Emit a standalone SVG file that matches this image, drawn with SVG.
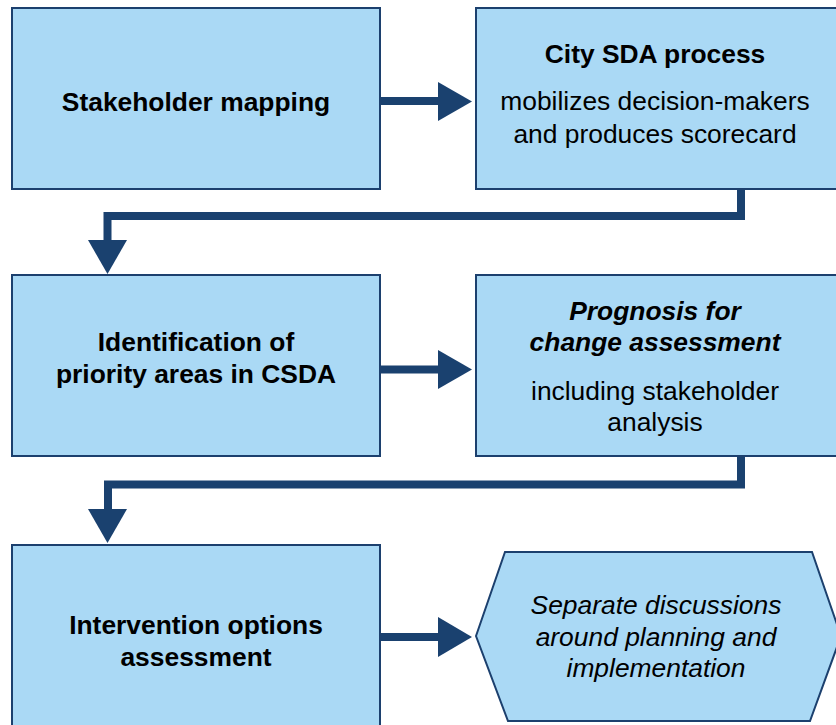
<svg xmlns="http://www.w3.org/2000/svg" width="836" height="725" viewBox="0 0 836 725">
<defs>
<style>
.box{fill:#aad9f5;stroke:#1c406e;stroke-width:2}
.conn{fill:none;stroke:#1a416f;stroke-width:8}
.head{fill:#1a416f}
text{font-family:"Liberation Sans",Arial,Helvetica,sans-serif;fill:#000;text-anchor:middle;font-size:26.4px}
.b{font-weight:bold}
.i{font-style:italic}
</style>
</defs>
<rect width="836" height="725" fill="#fff"/>
<g id="connectors">
<line class="conn" x1="380" y1="101" x2="440" y2="101"/>
<polygon class="head" points="438,82 472,101.5 438,121"/>
<polyline class="conn" points="741,189 741,216 107.5,216 107.5,242"/>
<polygon class="head" points="88,240 127,240 107.5,274"/>
<line class="conn" x1="380" y1="369.5" x2="440" y2="369.5"/>
<polygon class="head" points="438,350 472,369.5 438,389"/>
<polyline class="conn" points="741,457 741,484.5 108,484.5 108,511"/>
<polygon class="head" points="88,509 127,509 107.5,543"/>
<line class="conn" x1="380" y1="637" x2="440" y2="637"/>
<polygon class="head" points="438,617 472,637 438,657"/>
</g>
<g id="n1">
<rect class="box" x="12" y="8" width="368" height="181"/>
<text class="b" x="196" y="111">Stakeholder mapping</text>
</g>
<g id="n2">
<rect class="box" x="476" y="8" width="370" height="181"/>
<text class="b" x="655" y="63">City SDA process</text>
<text x="655" y="110">mobilizes decision-makers</text>
<text x="655" y="143">and produces scorecard</text>
</g>
<g id="n3">
<rect class="box" x="12" y="275" width="368" height="181"/>
<text class="b" x="196" y="351">Identification of</text>
<text class="b" x="196" y="383">priority areas in CSDA</text>
</g>
<g id="n4">
<rect class="box" x="476" y="275" width="370" height="181"/>
<text class="b i" x="655" y="320">Prognosis for</text>
<text class="b i" x="655" y="351">change assessment</text>
<text x="655" y="400">including stakeholder</text>
<text x="655" y="431">analysis</text>
</g>
<g id="n5">
<rect class="box" x="12" y="545" width="368" height="190"/>
<text class="b" x="196" y="634">Intervention options</text>
<text class="b" x="196" y="666">assessment</text>
</g>
<g id="n6">
<polygon class="box" points="476,636 505,552 812,552 841,636 810,721 508,721"/>
<text class="i" x="656" y="614">Separate discussions</text>
<text class="i" x="656" y="646">around planning and</text>
<text class="i" x="656" y="677">implementation</text>
</g>
</svg>
